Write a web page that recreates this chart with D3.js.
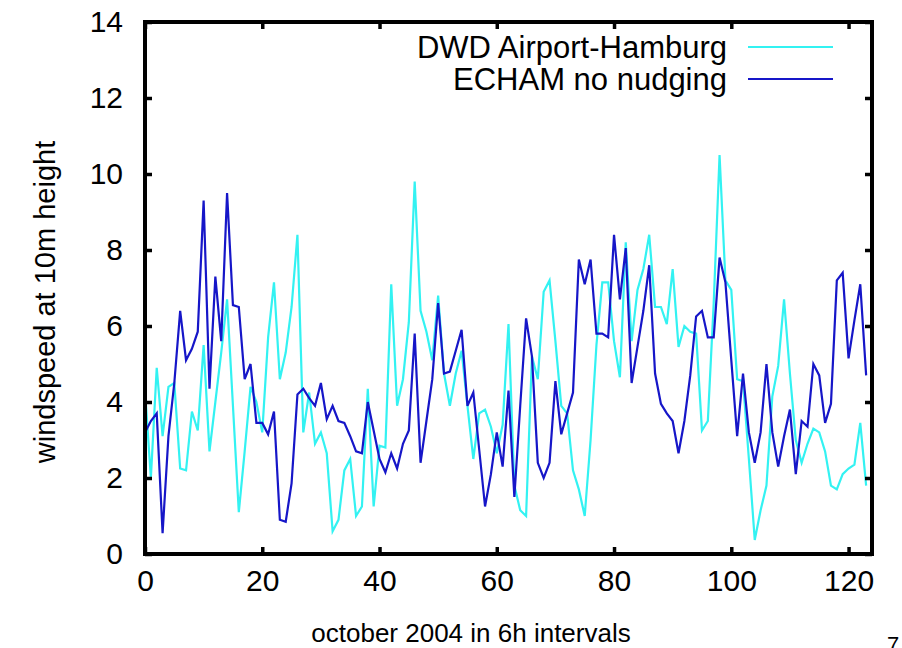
<!DOCTYPE html>
<html lang="en">
<head>
    <meta charset="UTF-8">
    <style>
        body { margin: 0; background: #fff; }
        svg text { font-family: "Liberation Sans", Arial, sans-serif; fill: #000; }
    </style>
    <script src="https://d3js.org/d3.v7.min.js"></script>
    <title>windspeed october 2004</title>
</head>
<body>
    <svg width="902" height="648"></svg>
    <script>

        // wind speed every 6h (index 0..123)
        var dwd = [4.3, 2.0, 4.9, 3.1, 4.4, 4.5, 2.25, 2.2, 3.75, 3.25,
                   5.5, 2.7, 4.0, 5.3, 6.7, 3.9, 1.1, 2.7, 4.4, 4.0,
                   3.2, 5.7, 7.15, 4.6, 5.3, 6.5, 8.4, 3.2, 4.25, 2.9,
                   3.2, 2.65, 0.6, 0.9, 2.2, 2.5, 1.0, 1.25, 4.35, 1.25,
                   2.85, 2.8, 7.1, 3.9, 4.6, 6.1, 9.8, 6.4, 5.85, 5.1,
                   6.8, 4.75, 3.9, 4.75, 5.35, 3.9, 2.5, 3.7, 3.8, 3.35,
                   2.65, 3.4, 6.05, 1.8, 1.15, 1.0, 5.2, 4.6, 6.9, 7.2,
                   5.6, 3.9, 3.7, 2.2, 1.7, 1.0, 3.0, 5.5, 7.15, 7.15,
                   5.6, 4.65, 8.2, 5.6, 6.95, 7.5, 8.4, 6.5, 6.5, 6.05,
                   7.5, 5.45, 6.0, 5.85, 5.8, 3.25, 3.5, 6.6, 10.5, 7.2,
                   6.95, 4.6, 4.55, 2.5, 0.37, 1.15, 1.8, 4.15, 4.95, 6.7,
                   4.75, 3.0, 2.4, 2.9, 3.3, 3.2, 2.7, 1.8, 1.7, 2.1,
                   2.25, 2.35, 3.45, 1.8];

        var echam = [3.2, 3.5, 3.7, 0.55, 3.1, 4.5, 6.4, 5.1, 5.4, 5.85,
                     9.3, 4.35, 7.3, 5.6, 9.5, 6.55, 6.5, 4.6, 5.0, 3.45,
                     3.45, 3.15, 3.75, 0.9, 0.85, 1.86, 4.2, 4.35, 4.1, 3.9,
                     4.5, 3.55, 3.9, 3.5, 3.45, 3.1, 2.7, 2.65, 4.0, 3.25,
                     2.5, 2.15, 2.65, 2.25, 2.9, 3.25, 5.8, 2.4, 3.5, 4.6,
                     6.6, 4.75, 4.8, 5.35, 5.9, 3.9, 4.25, 2.75, 1.25, 2.1,
                     3.2, 2.3, 4.3, 1.5, 3.9, 6.2, 5.2, 2.4, 2.0, 2.4,
                     4.55, 3.15, 3.7, 4.25, 7.75, 7.1, 7.75, 5.8, 5.8, 5.7,
                     8.4, 6.7, 8.05, 4.5, 5.45, 6.4, 7.6, 4.75, 3.95, 3.7,
                     3.5, 2.65, 3.5, 4.7, 6.25, 6.4, 5.7, 5.7, 7.8, 7.15,
                     5.1, 3.1, 4.75, 3.2, 2.4, 3.2, 5.0, 3.2, 2.3, 3.1,
                     3.8, 2.1, 3.5, 3.35, 5.0, 4.7, 3.45, 3.95, 7.2, 7.4,
                     5.15, 6.15, 7.1, 4.7];

        var seriesNames = ["DWD Airport-Hamburg", "ECHAM no nudging"];
        var seriesColors = ["#33f2f2", "#1616c8"];
        var xTicks = [0, 20, 40, 60, 80, 100, 120];
        var yTicks = [0, 2, 4, 6, 8, 10, 12, 14];

        var svg = d3.select("svg"),
            m = {left: 145, right: 872, top: 22, bottom: 554};

        var x = d3.scaleLinear().domain([0, 124]).range([m.left, m.right]);
        var y = d3.scaleLinear().domain([0, 14]).range([m.bottom, m.top]);

        var line = d3.line()
            .x(function(d, i) { return x(i); })
            .y(function(d) { return y(d); });

        // series, DWD first so ECHAM is on top
        [dwd, echam].forEach(function(s, k) {
            svg.append("path")
               .datum(s)
               .attr("fill", "none")
               .attr("stroke", seriesColors[k])
               .attr("stroke-width", 2.2)
               .attr("d", line);
        });

        // axes with inward ticks on all four sides
        var tickLen = 7;
        svg.append("g")
           .attr("transform", "translate(0," + m.bottom + ")")
           .call(d3.axisBottom(x).tickValues(xTicks).tickSize(-tickLen).tickPadding(16));
        svg.append("g")
           .attr("transform", "translate(0," + m.top + ")")
           .call(d3.axisTop(x).tickValues(xTicks).tickSize(-tickLen).tickFormat(""));
        svg.append("g")
           .attr("transform", "translate(" + m.left + ",0)")
           .call(d3.axisLeft(y).tickValues(yTicks).tickSize(-tickLen).tickPadding(22));
        svg.append("g")
           .attr("transform", "translate(" + m.right + ",0)")
           .call(d3.axisRight(y).tickValues(yTicks).tickSize(-tickLen).tickFormat(""));

        svg.selectAll(".domain").remove();
        svg.selectAll(".tick line").attr("stroke", "#000").attr("stroke-width", 3.5);
        svg.selectAll(".tick text").style("font-size", "30px").attr("fill", "#000");

        // frame
        svg.append("rect")
           .attr("x", m.left).attr("y", m.top)
           .attr("width", m.right - m.left).attr("height", m.bottom - m.top)
           .attr("fill", "none")
           .attr("stroke", "#000")
           .attr("stroke-width", 4);

        // legend
        var legend = svg.append("g");
        seriesNames.forEach(function(name, k) {
            var ly = 47 + k * 32;
            legend.append("text")
                  .attr("x", 727).attr("y", ly + 11)
                  .attr("text-anchor", "end")
                  .style("font-size", "31px")
                  .text(name);
            legend.append("line")
                  .attr("x1", 748).attr("x2", 833)
                  .attr("y1", ly).attr("y2", ly)
                  .attr("stroke", seriesColors[k])
                  .attr("stroke-width", 2.2);
        });

        // axis titles
        svg.append("text")
           .attr("x", 471).attr("y", 642)
           .attr("text-anchor", "middle")
           .style("font-size", "26px")
           .text("october 2004 in 6h intervals");

        svg.append("text")
           .attr("transform", "translate(55,302) rotate(-90)")
           .attr("text-anchor", "middle")
           .style("font-size", "29px")
           .text("windspeed at 10m height");

        // page number cut at the bottom edge
        svg.append("text")
           .attr("x", 887).attr("y", 652)
           .style("font-size", "22px")
           .text("7");

    </script>
</body>
</html>
